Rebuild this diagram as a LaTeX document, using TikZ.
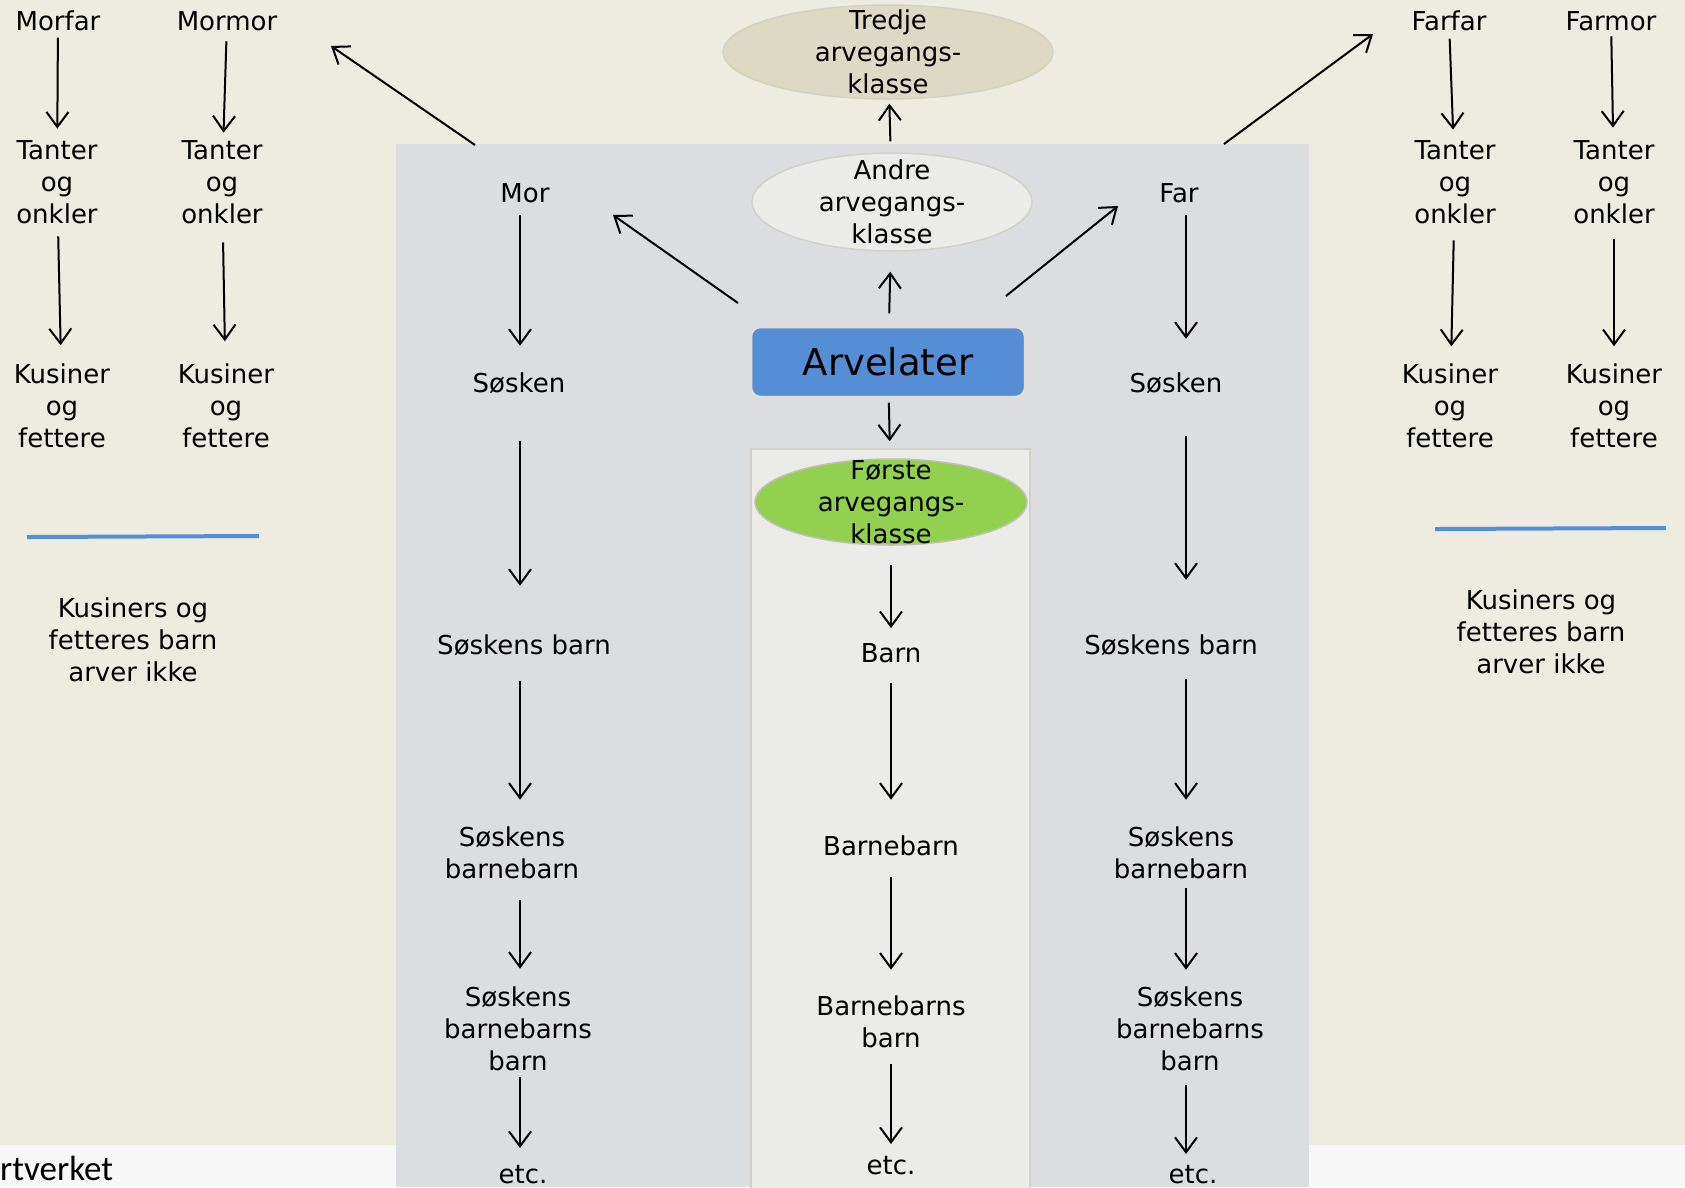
\documentclass[tikz,border=0pt]{standalone}
\usepackage{fontspec}
\setmainfont{DejaVu Sans}
\newfontfamily\footfont{Carlito}
\usepackage{tikz}
\usetikzlibrary{
	arrows.meta,
	shapes.geometric,
	positioning,
	}

\definecolor{beige}{HTML}{EEECE1}
\definecolor{panelgray}{HTML}{DCDDE1}
\definecolor{innergray}{HTML}{EBEBE9}
\definecolor{strip}{HTML}{F7F7F7}
\definecolor{tanfill}{HTML}{DDD9C3}
\definecolor{arvblue}{HTML}{558ED5}
\definecolor{arvgreen}{HTML}{92D050}
\definecolor{rim}{HTML}{D3D0C4}

\tikzset{
	txt/.style={inner sep=0pt, align=center, font=\fontsize{26}{32}\selectfont},
	arr/.style={line width=2pt, -{Straight Barb[length=15pt,width=22pt]}},
	gap/.style 2 args={shorten <=#1pt, shorten >=#2pt},
	classell/.style={ellipse, draw=rim, line width=1.5pt, inner sep=0pt},
	sepline/.style={draw=arvblue, line width=4pt},
}

\begin{document}
\begin{tikzpicture}[x=1pt, y=-1pt]
		\useasboundingbox (0,0) rectangle (1685,1187);
		% backgrounds
		\fill[beige] (0,0) rectangle (1685,1187);
		\fill[strip] (0,1145) rectangle (1685,1187);
		\fill[panelgray] (396,144) rectangle (1309,1187);
		\filldraw[fill=innergray, draw=rim, line width=1.5pt] (751,449) rectangle (1030,1200);
		\node[anchor=base west, inner sep=0pt, font=\footfont\fontsize{35}{40}\selectfont] (source) at (0,1180) {rtverket};

		% mother's side
		\node[txt] (morfar) at (58,21) {Morfar};
		\node[txt] (mormor) at (227,21) {Mormor};
		\node[txt] (tanterA) at (57,182) {Tanter\\og\\onkler};
		\node[txt] (tanterB) at (222,182) {Tanter\\og\\onkler};
		\node[txt] (kusinerA) at (62,406) {Kusiner\\og\\fettere};
		\node[txt] (kusinerB) at (226,406) {Kusiner\\og\\fettere};
		\node[txt] (ikkeA) at (133,640) {Kusiners og\\fetteres barn\\arver ikke};
		\draw[sepline] (27,537) -- (259,536);

		% father's side
		\node[txt] (farfar) at (1449,21) {Farfar};
		\node[txt] (farmor) at (1611,21) {Farmor};
		\node[txt] (tanterC) at (1455,182) {Tanter\\og\\onkler};
		\node[txt] (tanterD) at (1614,182) {Tanter\\og\\onkler};
		\node[txt] (kusinerC) at (1450,406) {Kusiner\\og\\fettere};
		\node[txt] (kusinerD) at (1614,406) {Kusiner\\og\\fettere};
		\node[txt] (ikkeB) at (1541,632) {Kusiners og\\fetteres barn\\arver ikke};
		\draw[sepline] (1435,529) -- (1666,528);

		% classes
		\node[classell, fill=tanfill, minimum width=330pt, minimum height=94pt,
			label={[txt]center:Tredje\\arvegangs-\\klasse}] (tredje) at (888,52) {};
		\node[classell, fill=innergray, minimum width=280pt, minimum height=98pt,
			label={[txt]center:Andre\\arvegangs-\\klasse}] (andre) at (892,202) {};
		\node[classell, draw=rim!80!gray, fill=arvgreen, minimum width=272pt, minimum height=86pt,
			label={[txt]center:Første\\arvegangs-\\klasse}] (forste) at (891,502) {};
		\node[draw=rim!70!white, line width=1.5pt, fill=arvblue, rounded corners=9pt,
			minimum width=273pt, minimum height=69pt, inner sep=0pt,
			font=\fontsize{37}{44}\selectfont] (arvelater) at (888,362) {Arvelater};

		% middle column
		\node[txt] (barn) at (891,653) {Barn};
		\node[txt] (barnebarn) at (891,846) {Barnebarn};
		\node[txt] (bbarn) at (891,1022) {Barnebarns\\barn};
		\node[txt] (etcM) at (891,1166) {etc.};

		% left column
		\node[txt] (mor) at (525,193) {Mor};
		\node[txt] (soskenL) at (519,383) {Søsken};
		\node[txt] (sbarnL) at (524,645) {Søskens barn};
		\node[txt] (sbbL) at (512,853) {Søskens\\barnebarn};
		\node[txt] (sbbbL) at (518,1029) {Søskens\\barnebarns\\barn};
		\node[txt] (etcL) at (523,1175) {etc.};

		% right column
		\node[txt] (far) at (1179,193) {Far};
		\node[txt] (soskenR) at (1176,383) {Søsken};
		\node[txt] (sbarnR) at (1171,645) {Søskens barn};
		\node[txt] (sbbR) at (1181,853) {Søskens\\barnebarn};
		\node[txt] (sbbbR) at (1190,1029) {Søskens\\barnebarns\\barn};
		\node[txt] (etcR) at (1193,1175) {etc.};

		% arrow columns and free arrow ends
		\coordinate (colL) at (520,0);
		\coordinate (colR) at (1186,0);
		\coordinate (morTop) at (475,145);
		\coordinate (morUp) at (331,46);
		\coordinate (farTop) at (1224,144);
		\coordinate (farUp) at (1373,34);
		\coordinate (arvL) at (738,303);
		\coordinate (toMor) at (613,215);
		\coordinate (arvR) at (1006,296);
		\coordinate (toFar) at (1118,206);

		\draw[arr] (morTop) -- (morUp);
		\draw[arr] (farTop) -- (farUp);
		\draw[arr] (arvL) -- (toMor);
		\draw[arr] (arvR) -- (toFar);

		\draw[arr, gap={13.5}{20}] (arvelater) -- (andre);
		\draw[arr, gap={11}{4}] (andre) -- (tredje);
		\draw[arr, gap={5.5}{17}] (arvelater) -- (forste);
		\draw[arr, gap={19}{15}] (forste) -- (barn);
		\draw[arr, gap={20}{36}] (barn) -- (barnebarn);
		\draw[arr, gap={21}{26}] (barnebarn) -- (bbarn);
		\draw[arr, gap={16}{12.5}] (bbarn) -- (etcM);

		\draw[arr, gap={12.4}{26.5}] (mor.south -| colL) -- (soskenL.north -| colL);
		\draw[arr, gap={47.5}{48.5}] (soskenL.south -| colL) -- (sbarnL.north -| colL);
		\draw[arr, gap={25.5}{27}] (sbarnL.south -| colL) -- (sbbL.north -| colL);
		\draw[arr, gap={21}{18}] (sbbL.south -| colL) -- (sbbbL.north -| colL);
		\draw[arr, gap={6}{17.5}] (sbbbL.south -| colL) -- (etcL.north -| colL);

		\draw[arr, gap={12.4}{33.5}] (far.south -| colR) -- (soskenR.north -| colR);
		\draw[arr, gap={42.5}{54.5}] (soskenR.south -| colR) -- (sbarnR.north -| colR);
		\draw[arr, gap={23.5}{27}] (sbarnR.south -| colR) -- (sbbR.north -| colR);
		\draw[arr, gap={9}{17}] (sbbR.south -| colR) -- (sbbbR.north -| colR);
		\draw[arr, gap={14}{11.5}] (sbbbR.south -| colR) -- (etcR.north -| colR);

		\draw[arr, gap={6.4}{11.5}] (morfar) -- (tanterA);
		\draw[arr, gap={10.4}{7.5}] (mormor) -- (tanterB);
		\draw[arr, gap={12.5}{18.5}] (tanterA) -- (kusinerA);
		\draw[arr, gap={18.5}{22.5}] (tanterB) -- (kusinerB);
		\draw[arr, gap={7.4}{10.5}] (farfar) -- (tanterC);
		\draw[arr, gap={5.4}{12.5}] (farmor) -- (tanterD);
		\draw[arr, gap={16.5}{17.5}] (tanterC) -- (kusinerC);
		\draw[arr, gap={15.5}{17.5}] (tanterD) -- (kusinerD);
	\end{tikzpicture}
\end{document}
